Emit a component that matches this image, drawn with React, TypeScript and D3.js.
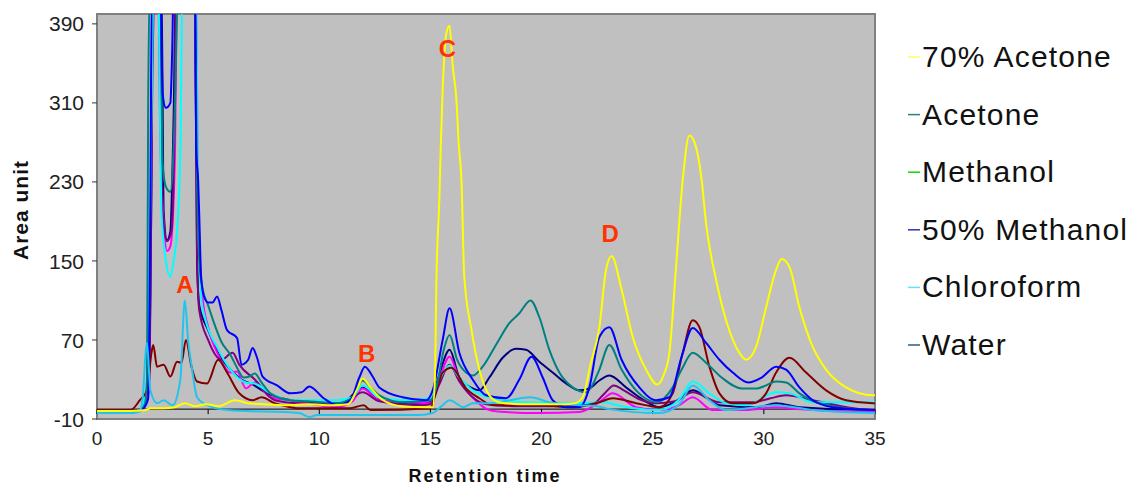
import React from 'react';
import * as d3 from 'd3';

type Pt = [number, number];

// ---- data (x = retention time, y = area unit) ----
const acetone70: Pt[] = [
  [0, -2], [1.5, -2], [2.2, -1], [2.4, 1], [3.0, 1], [3.5, 2], [3.95, 6], [4.4, 3], [4.9, 5], [5.5, 3],
  [6.2, 9], [6.8, 6], [7.5, 5], [8.5, 4], [9.5, 5], [10.5, 4], [11.3, 5], [11.7, 20], [11.95, 31], [12.3, 22],
  [12.8, 10], [13.7, 3], [14.8, 2], [15.1, 2], [15.2, 30], [15.27, 131], [15.4, 212], [15.47, 270], [15.55, 323],
  [15.72, 381], [15.86, 388], [16.0, 348], [16.17, 313], [16.27, 270], [16.4, 229], [16.52, 135], [16.85, 80],
  [17.2, 40], [17.65, 14], [18.1, 7], [19.0, 5], [20.0, 5], [21.0, 5], [21.5, 6], [21.85, 12], [22.2, 45],
  [22.6, 83], [22.9, 141], [23.15, 155], [23.6, 121], [24.1, 73], [24.7, 40], [25.2, 25], [25.5, 35], [25.75, 57],
  [26.05, 144], [26.35, 232], [26.65, 277], [26.95, 265], [27.2, 232], [27.4, 188], [27.85, 131], [28.3, 90],
  [28.9, 57], [29.2, 50], [29.65, 63], [30.1, 103], [30.55, 141], [30.8, 152], [31.15, 144], [31.6, 103],
  [32.2, 63], [32.8, 40], [33.7, 22], [34.9, 14], [35, 14],
];

const acetone: Pt[] = [
  [0, -3], [1.4, -4], [1.9, -2], [2.15, 5], [2.25, 30], [2.3, 300], [2.38, 430], [2.85, 430], [2.95, 250],
  [3.1, 225], [3.3, 220], [3.5, 300], [3.65, 430], [4.4, 430], [4.5, 240], [4.6, 150], [4.75, 122], [5.0, 105],
  [5.3, 85], [5.6, 68], [6.0, 55], [6.3, 42], [6.6, 32], [6.85, 33], [7.1, 36], [7.4, 27], [7.8, 16], [8.7, 9],
  [9.5, 8], [10.8, 6], [11.5, 12], [11.95, 29], [12.3, 22], [12.7, 14], [13.75, 7], [15.0, 9], [15.3, 25],
  [15.6, 60], [15.86, 75], [16.2, 50], [16.6, 37], [16.9, 34], [17.35, 43], [18.0, 67], [18.55, 87], [19.0, 97],
  [19.5, 110], [19.9, 93], [20.35, 60], [20.8, 37], [21.4, 22], [22.0, 17], [22.3, 25], [22.6, 40], [23.05, 65],
  [23.6, 40], [24.25, 19], [25.15, 7], [25.9, 22], [26.3, 40], [26.8, 57], [27.4, 47], [28.1, 32], [29.0, 21],
  [29.7, 21], [30.1, 24], [30.55, 28], [31.0, 27], [31.6, 16], [32.5, 6], [34.9, -1], [35, -1],
];

const methanol50: Pt[] = [
  [0, -3], [1.5, -3], [2.0, -1], [2.3, 10], [2.4, 200], [2.47, 430], [2.85, 430], [2.95, 320], [3.1, 305],
  [3.3, 310], [3.38, 360], [3.45, 430], [4.42, 430], [4.46, 262], [4.55, 232], [4.62, 180], [4.68, 135],
  [4.8, 115], [5.0, 108], [5.2, 108], [5.4, 114], [5.6, 100], [5.85, 80], [6.3, 72], [6.5, 45], [6.8, 50],
  [7.0, 62], [7.2, 52], [7.45, 33], [8.1, 24], [8.7, 16], [9.2, 17], [9.55, 23], [10.2, 11], [10.8, 4], [11.4, 9],
  [11.8, 32], [12.05, 43], [12.4, 33], [12.7, 22], [13.75, 12], [14.8, 9], [15.1, 19], [15.55, 70], [15.86, 102],
  [16.3, 57], [16.9, 30], [17.5, 14], [18.4, 11], [19.0, 30], [19.55, 53], [20.05, 32], [20.5, 9], [21.1, 2],
  [21.7, 2], [22.15, 22], [22.6, 73], [23.05, 83], [23.6, 50], [24.4, 22], [25.15, 9], [25.75, 12], [26.3, 53],
  [26.8, 82], [27.4, 67], [28.0, 50], [28.6, 37], [29.3, 27], [29.9, 32], [30.55, 43], [31.0, 40], [31.6, 22],
  [32.2, 9], [33.1, 2], [34.9, -1], [35, -1],
];

const water: Pt[] = [
  [0, -2], [1.5, -3], [2.0, -1], [2.3, 20], [2.45, 230], [2.5, 430], [2.9, 430], [3.0, 200], [3.15, 171],
  [3.3, 180], [3.45, 300], [3.55, 430], [4.4, 430], [4.5, 150], [4.6, 105], [5.0, 80], [5.5, 55], [6.0, 40],
  [6.5, 30], [7.0, 25], [7.5, 18], [8.5, 10], [10.0, 6], [11.0, 6], [11.95, 22], [12.6, 10], [14.0, 5], [15.0, 7],
  [15.4, 35], [15.86, 60], [16.3, 32], [16.9, 21], [17.2, 19], [17.65, 32], [18.25, 52], [18.85, 61], [19.3, 60],
  [19.9, 48], [20.5, 37], [21.1, 26], [21.7, 19], [22.15, 21], [22.6, 29], [23.05, 34], [23.8, 22], [24.6, 9],
  [25.3, 2], [26.0, 7], [26.8, 19], [27.4, 12], [28.0, 4], [29.7, 2], [30.55, 6], [31.6, 2], [34.9, -1], [35, -1],
];

const maroonSeries: Pt[] = [
  [0, -1], [1.5, -1], [1.93, 9], [2.25, 19], [2.45, 57], [2.53, 65], [2.7, 43], [3.0, 45], [3.3, 33], [3.6, 48],
  [3.8, 47], [4.0, 70], [4.25, 43], [4.5, 28], [4.95, 26], [5.45, 50], [5.85, 37], [6.4, 16], [7.0, 9], [7.4, 12],
  [8.0, 6], [8.7, 2], [9.0, 1], [11.4, 1], [12.0, 4], [12.3, -1], [15.0, 1], [15.3, 22], [15.55, 37], [15.95, 42],
  [16.6, 21], [17.2, 11], [17.8, 4], [19.9, 4], [21.4, 2], [22.6, 7], [23.2, 11], [24.25, 6], [25.3, 2],
  [25.9, 16], [26.35, 57], [26.8, 90], [27.1, 83], [27.55, 43], [28.0, 16], [28.6, 6], [29.5, 6], [30.1, 16],
  [30.55, 37], [31.15, 52], [31.9, 37], [32.8, 19], [33.7, 9], [34.9, 6], [35, 6],
];

const skySeries: Pt[] = [
  [0, -4], [1.4, -4], [1.9, -3], [2.05, 10], [2.2, 60], [2.25, 67], [2.4, 19], [2.7, 6], [3.0, 9], [3.4, 4],
  [3.75, 30], [3.95, 110], [4.1, 70], [4.3, 37], [4.5, 12], [4.95, 4], [5.85, -1], [9.1, -4], [9.57, -8],
  [9.9, -6], [14.5, -6], [15.1, -4], [15.5, 3], [15.86, 9], [16.5, 2], [16.9, 6], [17.65, 6], [19.5, 12],
  [20.35, 7], [21.7, 4], [22.5, 3], [23.05, 0], [25.3, -4], [26.2, 5], [26.8, 24], [27.55, 9], [28.3, -1],
  [30.55, 4], [32.2, -1], [34.9, -4], [35, -4],
];

const chloroform: Pt[] = [
  [0, -3], [1.5, -3], [2.0, 0], [2.2, 20], [2.3, 60], [2.45, 300], [2.55, 430], [2.75, 430], [2.9, 200],
  [3.1, 150], [3.3, 134], [3.45, 150], [3.6, 180], [3.75, 260], [3.85, 430], [4.45, 430], [4.55, 200], [4.7, 110],
  [4.85, 93], [5.4, 63], [6.0, 40], [6.7, 27], [7.1, 26], [7.8, 16], [8.7, 9], [10.8, 9], [11.5, 12], [11.95, 24],
  [12.7, 12], [13.7, 9], [15.0, 11], [15.4, 30], [15.86, 44], [16.3, 32], [16.9, 19], [17.65, 12], [19.2, 7],
  [21.4, 6], [22.9, 7], [23.05, 6], [25.3, -1], [26.2, 10], [26.8, 28], [27.55, 16], [28.3, 6], [29.2, 4],
  [30.55, 17], [31.15, 16], [32.2, 7], [34.9, 7], [35, 7],
];

const magentaSeries: Pt[] = [
  [0, -3], [1.5, -3], [2.0, -1], [2.35, 20], [2.45, 300], [2.55, 430], [2.75, 430], [2.85, 270], [3.0, 190],
  [3.15, 160], [3.3, 165], [3.5, 250], [3.6, 430], [4.45, 430], [4.55, 200], [4.75, 113], [5.0, 83], [5.5, 53],
  [6.0, 37], [6.3, 38], [6.7, 21], [7.1, 27], [7.8, 12], [8.7, 9], [10.8, 2], [11.5, 8], [11.95, 21], [12.7, 9],
  [15.0, 6], [15.4, 30], [15.86, 53], [16.3, 30], [16.9, 12], [17.65, -1], [18.4, -3], [19.9, -4], [21.7, -3],
  [22.6, 7], [23.2, 16], [24.25, 2], [25.3, -1], [26.2, 4], [26.8, 12], [27.7, -1], [29.2, -1], [30.55, 2],
  [31.5, 0], [34.9, -3], [35, -3],
];

const purpleSeries: Pt[] = [
  [0, -2], [1.5, -2], [2.0, 0], [2.35, 30], [2.5, 350], [2.6, 430], [2.8, 430], [2.95, 200], [3.15, 170],
  [3.35, 180], [3.5, 310], [3.55, 430], [4.4, 430], [4.5, 160], [4.6, 100], [5.0, 70], [5.6, 50], [6.1, 57],
  [6.4, 45], [7.1, 30], [8.0, 9], [9.0, 6], [11.0, 5], [11.95, 17], [12.7, 8], [14.5, 4], [15.0, 5], [15.4, 25],
  [15.86, 45], [16.3, 28], [16.9, 12], [17.5, 5], [19.0, 3], [21.0, 3], [22.3, 5], [22.8, 15], [23.25, 24],
  [23.7, 19], [24.4, 10], [25.15, 6], [26.0, 8], [26.8, 17], [28.0, 7], [29.5, 7], [30.3, 11], [31.0, 14],
  [32.2, 9], [34.9, -1], [35, -1],
];

const xTicks = [0, 5, 10, 15, 20, 25, 30, 35];
const yTicks = [-10, 70, 150, 230, 310, 390];

const legendLabels = ['70% Acetone', 'Acetone', 'Methanol', '50% Methanol', 'Chloroform', 'Water'];
const legendColors = ['#ffff66', '#2f7f7f', '#00dd00', '#3333aa', '#66e0ff', '#2b5f80'];

const peakLabels = ['A', 'B', 'C', 'D'];
const peakX = [3.95, 12.13, 15.77, 23.09];
const peakY = [118, 48, 356, 169];

// drawing order
const lineData: Pt[][] = [water, magentaSeries, purpleSeries, chloroform, maroonSeries, acetone, methanol50, skySeries, acetone70];
const lineColors = ['#000080', '#ff00ff', '#800080', '#00ffff', '#800000', '#008080', '#0000ff', '#22c4ee', '#ffff00'];

const W = 1140;
const H = 488;
const PL = 97, PR = 875, PT = 14, PB = 419;

export default function App() {
  const x = d3.scaleLinear().domain([0, 35]).range([PL, PR]);
  const y = d3.scaleLinear().domain([-10, 400]).range([PB, PT]);
  const line = d3.line<Pt>().x(d => x(d[0])).y(d => y(d[1])).curve(d3.curveMonotoneX);
  const font = 'Arial, "Liberation Sans", Helvetica, sans-serif';
  const y0 = y(0);

  return (
    <svg width={W} height={H} style={{ position: 'absolute', left: 0, top: 0, background: '#fff' }} fontFamily={font}>
      <defs>
        <clipPath id="plotclip">
          <rect x={PL} y={PT} width={PR - PL} height={PB - PT} />
        </clipPath>
      </defs>
      <rect x={PL} y={PT} width={PR - PL} height={PB - PT} fill="#c0c0c0" stroke="#808080" strokeWidth={2} />
      {/* zero axis */}
      <line x1={PL} x2={PR} y1={y0} y2={y0} stroke="#000" strokeWidth={1} />
      {xTicks.map(t => (
        <line key={'xt' + t} x1={x(t)} x2={x(t)} y1={y0} y2={y0 + 5} stroke="#000" strokeWidth={1} />
      ))}
      <g clipPath="url(#plotclip)">
        {lineData.map((d, i) => (
          <path key={i} d={line(d) || ''} fill="none" stroke={lineColors[i]} strokeWidth={2} strokeLinejoin="round" />
        ))}
      </g>
      {/* y axis ticks */}
      {yTicks.map(t => (
        <g key={'yt' + t}>
          <line x1={PL - 5} x2={PL} y1={y(t)} y2={y(t)} stroke="#333" strokeWidth={1} />
          <text x={84} y={y(t)} dy="0.36em" textAnchor="end" fontSize={21} fill="#222">{t}</text>
        </g>
      ))}
      {xTicks.map(t => (
        <text key={'xl' + t} x={x(t)} y={445} textAnchor="middle" fontSize={19} fill="#222">{t}</text>
      ))}
      {/* peak labels */}
      {peakLabels.map((l, i) => (
        <text key={l} x={x(peakX[i])} y={y(peakY[i])} textAnchor="middle" fontSize={24} fontWeight="bold" fill="#ff3300">{l}</text>
      ))}
      {/* axis titles */}
      <text x={485} y={482} textAnchor="middle" fontSize={18} fontWeight="bold" letterSpacing={2} fill="#111">Retention time</text>
      <text transform="translate(28,210) rotate(-90)" textAnchor="middle" fontSize={21} fontWeight="bold" letterSpacing={1} fill="#111">Area unit</text>
      {/* legend */}
      {legendLabels.map((l, i) => {
        const by = 67 + i * 57.6;
        return (
          <g key={l}>
            <line x1={908} x2={920} y1={by - 10} y2={by - 10} stroke={legendColors[i]} strokeWidth={1.5} />
            <text x={922} y={by} fontSize={30} letterSpacing={1.2} fill="#111">{l}</text>
          </g>
        );
      })}
    </svg>
  );
}
